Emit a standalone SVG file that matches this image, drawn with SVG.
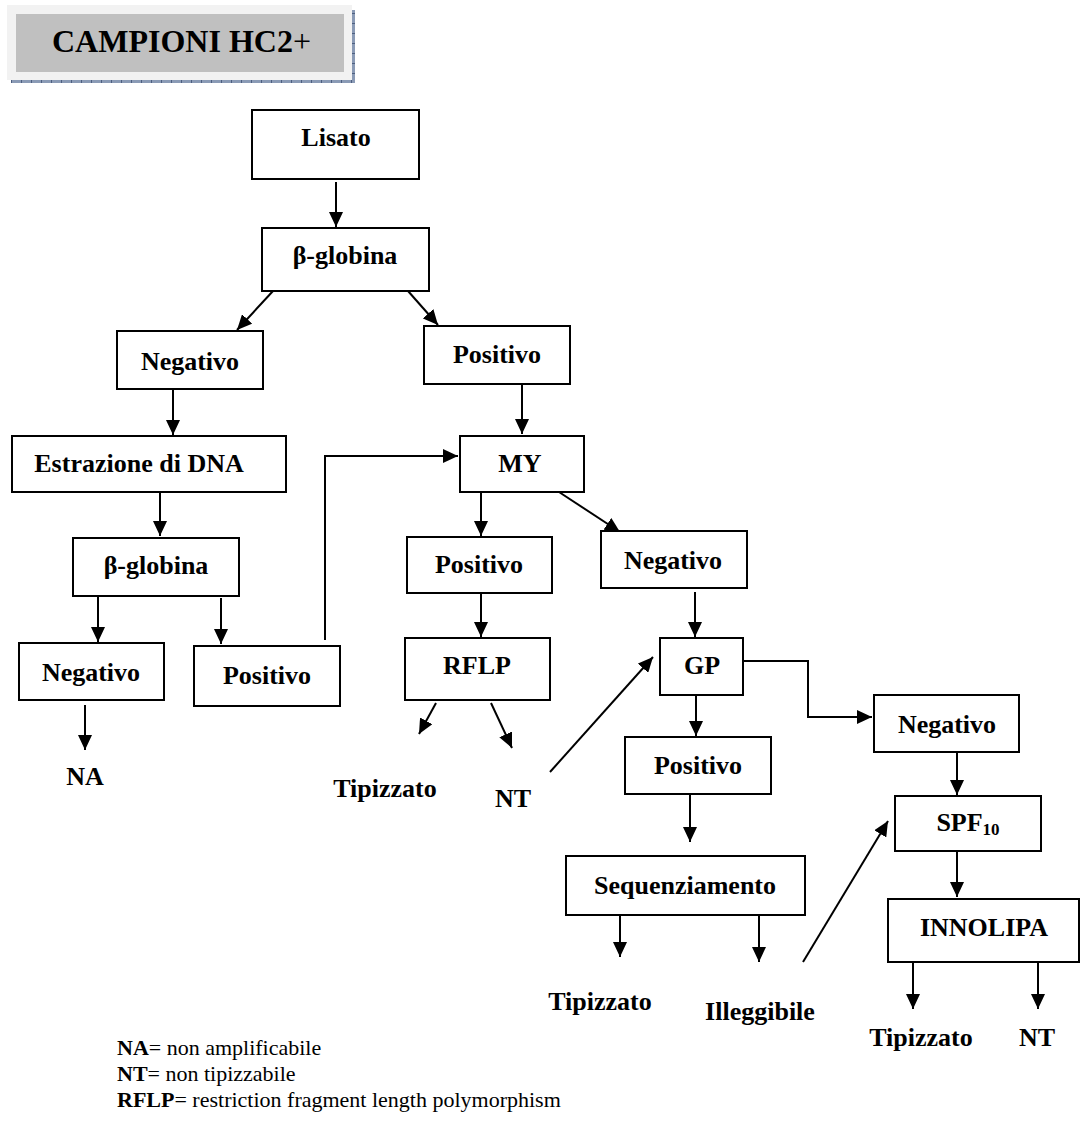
<svg xmlns="http://www.w3.org/2000/svg" width="1087" height="1126" viewBox="0 0 1087 1126">
<style>
.box{fill:#fff;stroke:#000;stroke-width:2}
.t{font-family:"Liberation Serif","Times New Roman",serif;font-weight:bold;font-size:26px;fill:#000;text-anchor:middle}
.c{fill:none;stroke:#000;stroke-width:2}
.leg{font-family:"Liberation Serif","Times New Roman",serif;font-size:22px;fill:#000}
</style>
<defs>
<marker id="ah" viewBox="0 0 15 14" refX="15" refY="7" markerWidth="15" markerHeight="14" markerUnits="userSpaceOnUse" orient="auto">
<path d="M0,0 L15,7 L0,14 z" fill="#000"/>
</marker>
</defs>
<rect width="1087" height="1126" fill="#fff"/>
<g id="title">
<path d="M11,81.5 H353.5 V10" fill="none" stroke="#8a9ab5" stroke-width="3"/>
<path d="M11,81.5 H353.5 V10" fill="none" stroke="#4d5f80" stroke-width="3" stroke-dasharray="1 9"/>
<rect x="7" y="5" width="345" height="75" fill="#f2f2f2"/>
<rect x="16" y="14" width="328" height="58" fill="#c0c0c0"/>
<text x="52" y="52" font-family="'Liberation Serif','Times New Roman',serif" font-size="32" font-weight="bold">CAMPIONI HC2<tspan font-weight="normal">+</tspan></text>
</g>
<g id="connectors" class="c" marker-end="url(#ah)">
<line x1="336" y1="182" x2="336" y2="227"/>
<line x1="273" y1="291" x2="237" y2="330"/>
<line x1="408" y1="291" x2="438" y2="325"/>
<line x1="173" y1="390" x2="173" y2="435"/>
<line x1="522" y1="384" x2="522" y2="434"/>
<line x1="160" y1="492" x2="160" y2="536"/>
<line x1="98" y1="596" x2="98" y2="642"/>
<line x1="221" y1="598" x2="221" y2="644"/>
<line x1="85" y1="705" x2="85" y2="750"/>
<polyline points="325,640 325,456 458,456"/>
<line x1="481" y1="492" x2="481" y2="536"/>
<line x1="559" y1="492" x2="620" y2="532"/>
<line x1="481" y1="593" x2="481" y2="637"/>
<line x1="436" y1="703" x2="419" y2="734"/>
<line x1="491" y1="703" x2="512" y2="748"/>
<line x1="550" y1="772" x2="653" y2="657"/>
<line x1="695" y1="592" x2="695" y2="637"/>
<polyline points="743,661 808,661 808,717 872,717"/>
<line x1="696" y1="695" x2="696" y2="736"/>
<line x1="690" y1="794" x2="690" y2="842"/>
<line x1="620" y1="915" x2="620" y2="957"/>
<line x1="759" y1="915" x2="759" y2="962"/>
<line x1="803" y1="962" x2="888" y2="821"/>
<line x1="957" y1="752" x2="957" y2="795"/>
<line x1="957" y1="851" x2="957" y2="897"/>
<line x1="913" y1="962" x2="913" y2="1009"/>
<line x1="1038" y1="962" x2="1038" y2="1009"/>
</g>
<g id="lisato"><rect class="box" x="252" y="110" width="167" height="69"/><text class="t" x="336" y="146">Lisato</text></g>
<g id="bglobina1"><rect class="box" x="262" y="228" width="167" height="63"/><text class="t" x="345" y="264">β-globina</text></g>
<g id="negativo1"><rect class="box" x="117" y="331" width="146" height="58"/><text class="t" x="190" y="370">Negativo</text></g>
<g id="positivo1"><rect class="box" x="424" y="326" width="146" height="58"/><text class="t" x="497" y="363">Positivo</text></g>
<g id="estrazione"><rect class="box" x="12" y="436" width="274" height="56"/><text class="t" x="139" y="472">Estrazione di DNA</text></g>
<g id="bglobina2"><rect class="box" x="73" y="538" width="166" height="58"/><text class="t" x="156" y="574">β-globina</text></g>
<g id="negativo2"><rect class="box" x="19" y="643" width="145" height="57"/><text class="t" x="91" y="681">Negativo</text></g>
<g id="positivo2"><rect class="box" x="194" y="646" width="146" height="60"/><text class="t" x="267" y="684">Positivo</text></g>
<g id="my"><rect class="box" x="460" y="436" width="124" height="56"/><text class="t" x="520" y="472">MY</text></g>
<g id="positivo3"><rect class="box" x="407" y="537" width="145" height="56"/><text class="t" x="479" y="573">Positivo</text></g>
<g id="negativo3"><rect class="box" x="601" y="531" width="146" height="57"/><text class="t" x="673" y="569">Negativo</text></g>
<g id="rflp"><rect class="box" x="405" y="638" width="145" height="62"/><text class="t" x="477" y="674">RFLP</text></g>
<g id="gp"><rect class="box" x="660" y="638" width="83" height="57"/><text class="t" x="702" y="674">GP</text></g>
<g id="negativo4"><rect class="box" x="874" y="695" width="145" height="57"/><text class="t" x="947" y="733">Negativo</text></g>
<g id="positivo4"><rect class="box" x="625" y="737" width="146" height="57"/><text class="t" x="698" y="774">Positivo</text></g>
<g id="spf10"><rect class="box" x="895" y="796" width="146" height="55"/><text class="t" x="968" y="831">SPF<tspan font-size="17" dy="4">10</tspan></text></g>
<g id="sequenziamento"><rect class="box" x="566" y="856" width="239" height="59"/><text class="t" x="685" y="894">Sequenziamento</text></g>
<g id="innolipa"><rect class="box" x="888" y="899" width="191" height="63"/><text class="t" x="984" y="936">INNOLIPA</text></g>
<g id="na"><text class="t" x="85" y="785">NA</text></g>
<g id="tipizzato1"><text class="t" x="385" y="797">Tipizzato</text></g>
<g id="nt1"><text class="t" x="513" y="807">NT</text></g>
<g id="tipizzato2"><text class="t" x="600" y="1010">Tipizzato</text></g>
<g id="illeggibile"><text class="t" x="760" y="1020">Illeggibile</text></g>
<g id="tipizzato3"><text class="t" x="921" y="1046">Tipizzato</text></g>
<g id="nt2"><text class="t" x="1037" y="1046">NT</text></g>
<g id="legend">
<text class="leg" x="117" y="1055"><tspan font-weight="bold">NA</tspan>= non amplificabile</text>
<text class="leg" x="117" y="1081"><tspan font-weight="bold">NT</tspan>= non tipizzabile</text>
<text class="leg" x="117" y="1107"><tspan font-weight="bold">RFLP</tspan>= restriction fragment length polymorphism</text>
</g>
</svg>
